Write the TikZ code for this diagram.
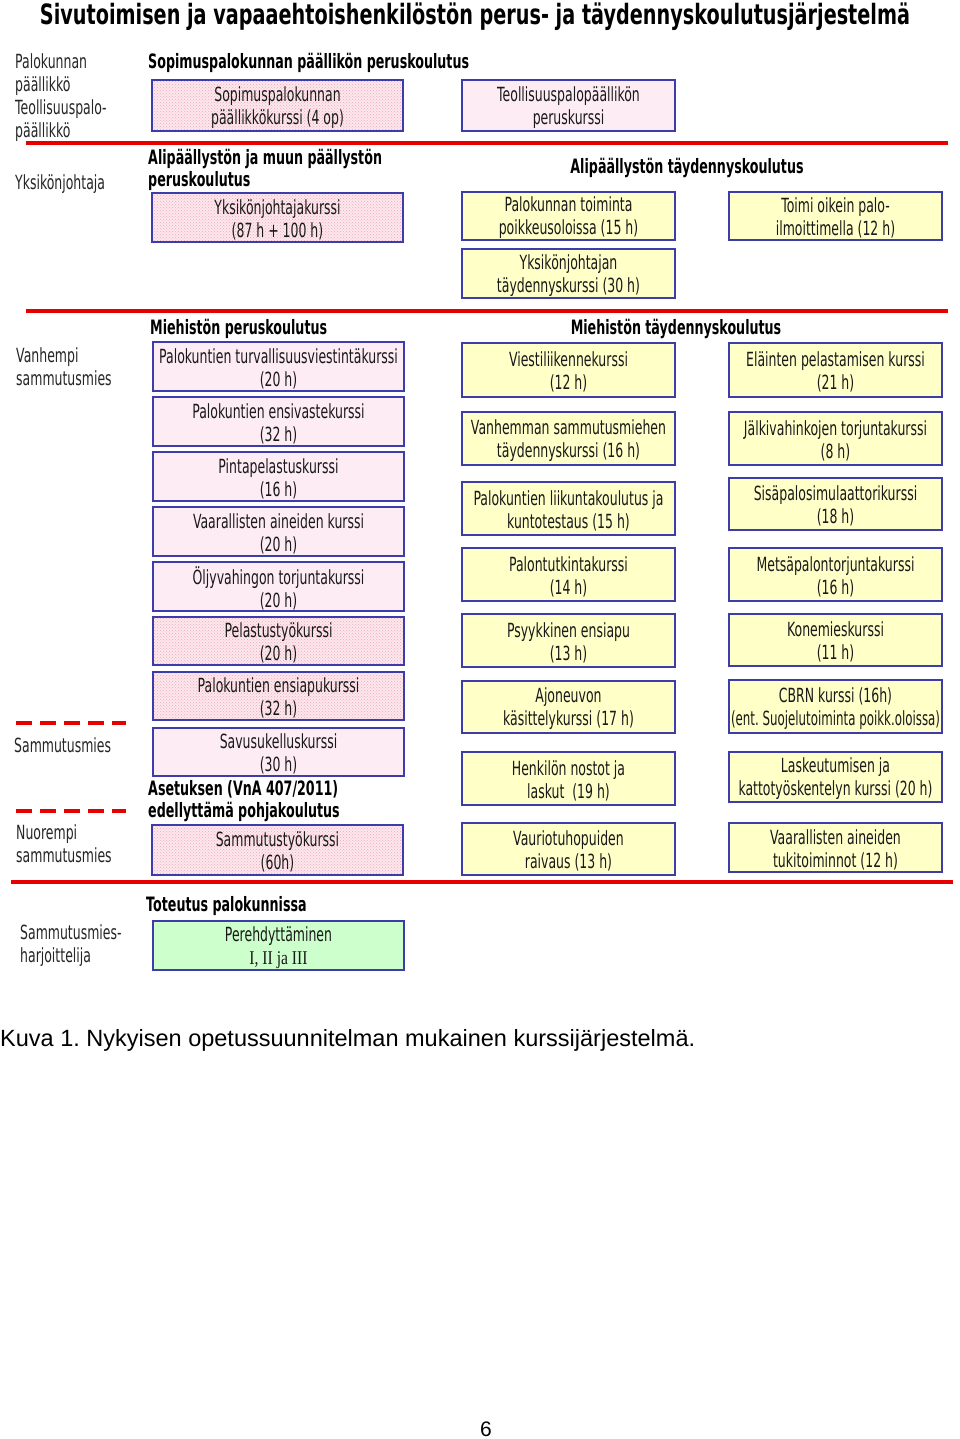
\documentclass[tikz,border=0pt]{standalone}
\usepackage{fontspec}
\usepackage{graphicx}
\usetikzlibrary{patterns}
\setmainfont{DejaVu Sans}[FakeStretch=0.64]
\newfontfamily\capfont{Liberation Sans}
\newfontfamily\serifrm{Liberation Serif}[FakeStretch=0.8]
\definecolor{bordc}{RGB}{60,60,170}
\definecolor{pinkc}{RGB}{253,236,244}
\definecolor{hatchbg}{RGB}{253,232,238}
\definecolor{hatchfg}{RGB}{236,168,186}
\definecolor{yellc}{RGB}{255,255,200}
\definecolor{greenc}{RGB}{204,255,204}
\definecolor{redc}{RGB}{230,0,0}
\tikzset{
  course/.style={draw=bordc, line width=2.4pt, inner sep=0pt},
  coursetext/.style={align=center, inner sep=0pt, font=\fontsize{19.5}{23}\selectfont, text=black!90},
  plainpink/.style={course, fill=pinkc},
  hatched/.style={course, preaction={fill=hatchbg}, pattern=crosshatch dots, pattern color=hatchfg},
  yellowbox/.style={course, fill=yellc},
  greenbox/.style={course, fill=greenc},
  lbl/.style={anchor=west, align=left, inner sep=0pt, font=\fontsize{19.5}{23}\selectfont, text=black!85},
  head/.style={anchor=west, align=left, inner sep=0pt, font=\bfseries\fontsize{19.8}{22.5}\selectfont},
  headc/.style={anchor=center, align=center, inner sep=0pt, font=\bfseries\fontsize{19.8}{22.5}\selectfont},
  redline/.style={draw=redc, line width=4pt},
  reddash/.style={draw=redc, line width=4pt, dash pattern=on 16pt off 8pt}
}
\newcommand\cbox[7]{\node[#6, minimum width={(#4-#2)*1pt}, minimum height={(#5-#3)*1pt}] (#1) at ({(#2+#4)/2},{(#3+#5)/2}) {};
  \node[coursetext] (#1-t) at ([yshift=-2pt]#1.center) {#7};}
\frenchspacing
\begin{document}
\begin{tikzpicture}[x=1pt,y=-1pt]
\useasboundingbox (0,0) rectangle (960,1439);
\fill[white] (0,0) rectangle (960,1439);

% title
\node[anchor=base, inner sep=0pt] (title) at (475,25)
  {\resizebox{870pt}{\height}{\bfseries\fontsize{28}{28}\selectfont Sivutoimisen ja vapaaehtoishenkilöstön perus- ja täydennyskoulutusjärjestelmä}};

% separators
\coordinate (s1a) at (26,143); \coordinate (s1b) at (948,143);
\coordinate (s2a) at (26,311); \coordinate (s2b) at (948,311);
\coordinate (s3a) at (11,882); \coordinate (s3b) at (953,882);
\draw[redline] (s1a) -- (s1b);
\draw[redline] (s2a) -- (s2b);
\draw[redline] (s3a) -- (s3b);
\coordinate (d1a) at (16,723); \coordinate (d1b) at (126,723);
\coordinate (d2a) at (16,811); \coordinate (d2b) at (126,811);
\draw[reddash] (d1a) -- (d1b);
\draw[reddash] (d2a) -- (d2b);

% left labels
\node[lbl] (lab1) at (15,98) {Palokunnan\\päällikkö\\Teollisuuspalo-\\päällikkö};
\node[lbl] (lab2) at (15,184) {Yksikönjohtaja};
\node[lbl] (lab3) at (16,367) {Vanhempi\\sammutusmies};
\node[lbl] (lab4) at (14,745) {Sammutusmies};
\node[lbl] (lab5) at (16,844) {Nuorempi\\sammutusmies};
\node[lbl] (lab6) at (20,946) {Sammutusmies-\\harjoittelija};

% headings
\node[head] (h1) at (148,63) {Sopimuspalokunnan päällikön peruskoulutus};
\node[head] (h2) at (148,170) {Alipäällystön ja muun päällystön\\peruskoulutus};
\node[headc] (h3) at (687,168) {Alipäällystön täydennyskoulutus};
\node[head] (h4) at (150,329) {Miehistön peruskoulutus};
\node[headc] (h5) at (676,329) {Miehistön täydennyskoulutus};
\node[head] (h6) at (148,801) {Asetuksen (VnA 407/2011)\\edellyttämä pohjakoulutus};
\node[head] (h7) at (146,906) {Toteutus palokunnissa};

% top boxes
\cbox{sopk}{152}{80}{403}{131}{hatched}{Sopimuspalokunnan\\päällikkökurssi (4 op)}
\cbox{teol}{462}{80}{675}{131}{plainpink}{Teollisuuspalopäällikön\\peruskurssi}
\cbox{ykj}{152}{193}{403}{242}{hatched}{Yksikönjohtajakurssi\\(87 h + 100 h)}
\cbox{pkt}{462}{192}{675}{240}{yellowbox}{Palokunnan toiminta\\poikkeusoloissa (15 h)}
\cbox{toimi}{729}{192}{942}{240}{yellowbox}{Toimi oikein palo-\\ilmoittimella (12 h)}
\cbox{ykjt}{462}{249}{675}{298}{yellowbox}{Yksikönjohtajan\\täydennyskurssi (30 h)}

% left column
\cbox{l1}{153}{342}{404}{391}{plainpink}{Palokuntien turvallisuusviestintäkurssi\\(20 h)}
\cbox{l2}{153}{397}{404}{446}{plainpink}{Palokuntien ensivastekurssi\\(32 h)}
\cbox{l3}{153}{452}{404}{501}{plainpink}{Pintapelastuskurssi\\(16 h)}
\cbox{l4}{153}{507}{404}{556}{plainpink}{Vaarallisten aineiden kurssi\\(20 h)}
\cbox{l5}{153}{562}{404}{611}{plainpink}{Öljyvahingon torjuntakurssi\\(20 h)}
\cbox{l6}{153}{617}{404}{665}{hatched}{Pelastustyökurssi\\(20 h)}
\cbox{l7}{153}{672}{404}{720}{hatched}{Palokuntien ensiapukurssi\\(32 h)}
\cbox{l8}{153}{728}{404}{776}{plainpink}{Savusukelluskurssi\\(30 h)}
\cbox{l9}{152}{825}{403}{875}{hatched}{Sammutustyökurssi\\(60h)}

% middle column
\cbox{m1}{462}{343}{675}{397}{yellowbox}{Viestiliikennekurssi\\(12 h)}
\cbox{m2}{462}{412}{675}{465}{yellowbox}{Vanhemman sammutusmiehen\\täydennyskurssi (16 h)}
\cbox{m3}{462}{482}{675}{535}{yellowbox}{Palokuntien liikuntakoulutus ja\\kuntotestaus (15 h)}
\cbox{m4}{462}{548}{675}{601}{yellowbox}{Palontutkintakurssi\\(14 h)}
\cbox{m5}{462}{614}{675}{667}{yellowbox}{Psyykkinen ensiapu\\(13 h)}
\cbox{m6}{462}{681}{675}{733}{yellowbox}{Ajoneuvon\\käsittelykurssi (17 h)}
\cbox{m7}{462}{752}{675}{805}{yellowbox}{Henkilön nostot ja\\laskut~~(19 h)}
\cbox{m8}{462}{823}{675}{875}{yellowbox}{Vauriotuhopuiden\\raivaus (13 h)}

% right column
\cbox{r1}{729}{343}{942}{397}{yellowbox}{Eläinten pelastamisen kurssi\\(21 h)}
\cbox{r2}{729}{412}{942}{465}{yellowbox}{Jälkivahinkojen torjuntakurssi\\(8 h)}
\cbox{r3}{729}{478}{942}{530}{yellowbox}{Sisäpalosimulaattorikurssi\\(18 h)}
\cbox{r4}{729}{548}{942}{601}{yellowbox}{Metsäpalontorjuntakurssi\\(16 h)}
\cbox{r5}{729}{614}{942}{666}{yellowbox}{Konemieskurssi\\(11 h)}
\cbox{r6}{729}{680}{942}{733}{yellowbox}{CBRN kurssi (16h)\\\resizebox{209pt}{\height}{(ent. Suojelutoiminta poikk.oloissa)}}
\cbox{r7}{729}{752}{942}{802}{yellowbox}{Laskeutumisen ja\\kattotyöskentelyn kurssi (20 h)}
\cbox{r8}{729}{823}{942}{872}{yellowbox}{Vaarallisten aineiden\\tukitoiminnot (12 h)}

% green
\cbox{pere}{153}{921}{404}{970}{greenbox}{Perehdyttäminen\\{\serifrm I, II ja III}}

% caption and page number
\node[anchor=base west, inner sep=0pt] (cap) at (0,1046)
  {\resizebox{695pt}{!}{\capfont\fontsize{21}{21}\selectfont Kuva 1. Nykyisen opetussuunnitelman mukainen kurssijärjestelmä.}};
\node[anchor=base, inner sep=0pt] (pg) at (486,1436) {\capfont\fontsize{21}{21}\selectfont 6};
\end{tikzpicture}
\end{document}
